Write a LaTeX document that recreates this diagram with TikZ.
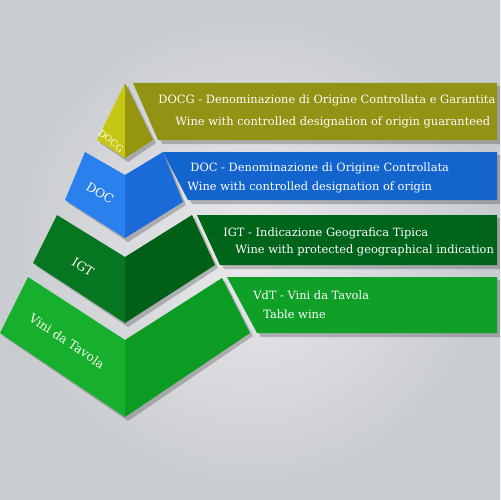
\documentclass[tikz,border=0pt]{standalone}
\usepackage{fontspec}
\setmainfont{DejaVu Serif}

\definecolor{bglight}{RGB}{234,234,236}
\definecolor{bgdark}{RGB}{200,203,207}
\definecolor{docgL}{RGB}{198,198,22}
\definecolor{docgR}{RGB}{150,150,14}
\definecolor{docgB}{RGB}{146,146,20}
\definecolor{docL}{RGB}{42,128,236}
\definecolor{docR}{RGB}{26,106,216}
\definecolor{docB}{RGB}{20,100,205}
\definecolor{igtL}{RGB}{6,118,32}
\definecolor{igtR}{RGB}{0,96,24}
\definecolor{igtB}{RGB}{0,100,26}
\definecolor{vdtL}{RGB}{22,176,46}
\definecolor{vdtR}{RGB}{12,156,36}
\definecolor{vdtB}{RGB}{16,160,40}

\begin{document}
\begin{tikzpicture}[x=0.02cm, y=-0.02cm,
    bantext/.style={text=white, anchor=west, inner sep=0pt, font=\fontsize{6.5}{7}\selectfont},
    tiertext/.style={text=white!92!yellow, inner sep=0pt, font=\fontsize{7}{8}\selectfont},
    shadow/.style={fill=black, opacity=0.22}]

    % Background
    \useasboundingbox (0,0) rectangle (500,500);
    \shade[inner color=bglight, outer color=bgdark] (0,0) rectangle (500,500);

    % Shadows
    \fill[shadow] (137,86) -- (500,86) -- (500,144) -- (162,144) -- cycle;
    \fill[shadow] (167,155) -- (500,155) -- (500,204) -- (192,204) -- cycle;
    \fill[shadow] (201,218) -- (500,218) -- (500,269) -- (224,269) -- cycle;
    \fill[shadow] (231,280) -- (500,280) -- (500,337) -- (261,337) -- cycle;
    \fill[shadow] (128,86) -- (156,143) -- (128,162) -- (100,143) -- cycle;
    \fill[shadow] (88,155) -- (128,178) -- (166,155) -- (186,205) -- (128,242) -- (68,203) -- cycle;
    \fill[shadow] (60,218) -- (128,260) -- (195,218) -- (218,268) -- (128,327) -- (36,266) -- cycle;
    \fill[shadow] (31,280) -- (128,343) -- (225,281) -- (253,336) -- (128,421) -- (3,336) -- cycle;

    % Banners
    \fill[docgB] (133,83) -- (497,83) -- (497,140) -- (158,140) -- cycle;
    \fill[docB] (163,152) -- (497,152) -- (497,200) -- (188,200) -- cycle;
    \fill[igtB] (197,215) -- (497,215) -- (497,265) -- (220,265) -- cycle;
    \fill[vdtB] (227,277) -- (497,277) -- (497,333) -- (257,333) -- cycle;

    % Pyramid tiers
    \fill[docgL] (125,83) -- (97,140) -- (125,158) -- cycle;
    \fill[docgR] (125,83) -- (125,158) -- (153,140) -- cycle;
    \fill[docL] (85,152) -- (125,175) -- (125,238) -- (65,200) -- cycle;
    \fill[docR] (125,175) -- (163,152) -- (183,202) -- (125,238) -- cycle;
    \fill[igtL] (57,215) -- (125,257) -- (125,323) -- (33,263) -- cycle;
    \fill[igtR] (125,257) -- (192,215) -- (215,265) -- (125,323) -- cycle;
    \fill[vdtL] (28,277) -- (125,340) -- (125,417) -- (0,333) -- cycle;
    \fill[vdtR] (125,340) -- (222,278) -- (250,333) -- (125,417) -- cycle;

    % Tier labels
    \node[tiertext, font=\fontsize{5.2}{6}\selectfont, rotate=-40] (docgLbl) at (111,141) {DOCG};
    \node[tiertext, rotate=-30] (docLbl) at (100,193) {DOC};
    \node[tiertext, rotate=-32] (igtLbl) at (83,267) {IGT};
    \node[tiertext, rotate=-34] (vdtLbl) at (67,341) {Vini da Tavola};

    % Banner texts
    \node[bantext] (docgA) at (158,100) {DOCG - Denominazione di Origine Controllata e Garantita};
    \node[bantext] (docgE) at (175,122) {Wine with controlled designation of origin guaranteed};
    \node[bantext] (docA) at (190,168) {DOC - Denominazione di Origine Controllata};
    \node[bantext] (docE) at (187,187) {Wine with controlled designation of origin};
    \node[bantext] (igtA) at (223,233) {IGT - Indicazione Geografica Tipica};
    \node[bantext] (igtE) at (235,250) {Wine with protected geographical indication};
    \node[bantext] (vdtA) at (253,295) {VdT - Vini da Tavola};
    \node[bantext] (vdtE) at (263,314) {Table wine};

\end{tikzpicture}
\end{document}
